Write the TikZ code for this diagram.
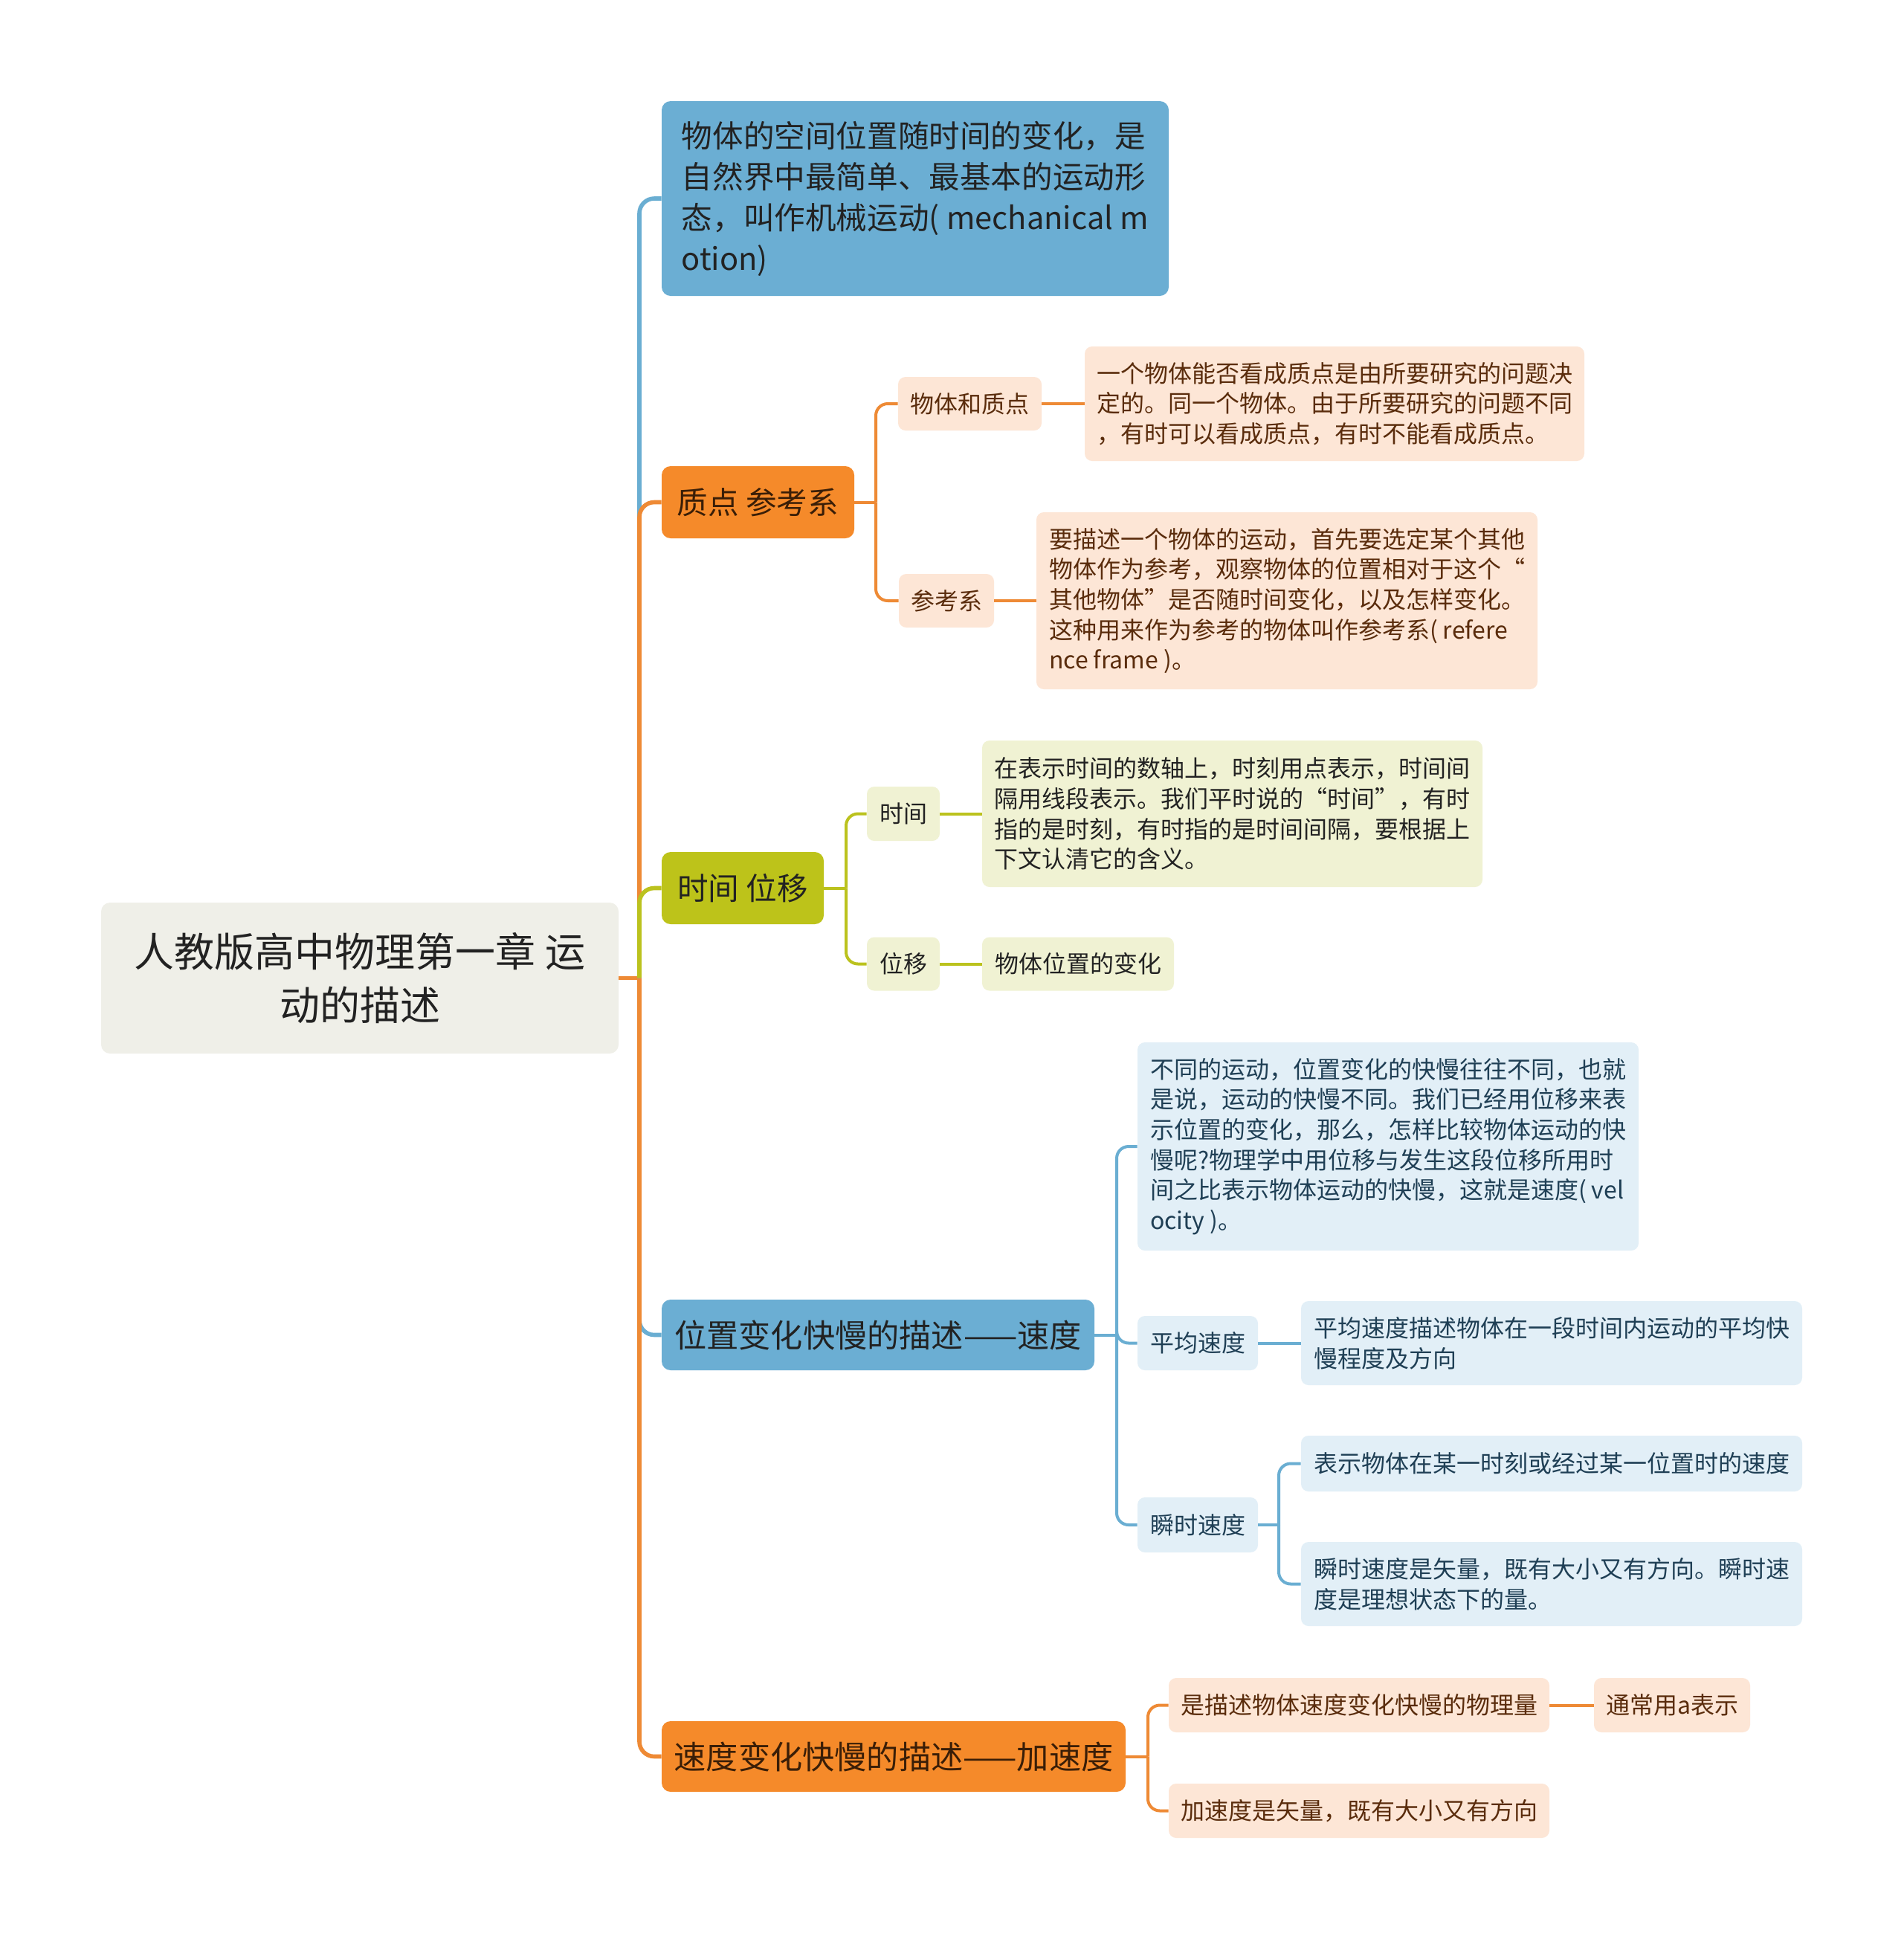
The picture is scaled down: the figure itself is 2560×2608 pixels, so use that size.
\documentclass[tikz,border=0pt]{standalone}
\usepackage{fontspec}
\setmainfont{Noto Sans CJK SC}
\definecolor{blueM}{HTML}{6BAED3}
\definecolor{blueL}{HTML}{E2EFF7}
\definecolor{blueLine}{HTML}{6AAED2}
\definecolor{blueTxt}{HTML}{1F3F55}
\definecolor{orangeM}{HTML}{F58A2A}
\definecolor{orangeLine}{HTML}{EE8A35}
\definecolor{peach}{HTML}{FDE6D6}
\definecolor{brownTxt}{HTML}{5A2C0C}
\definecolor{darkBrown}{HTML}{3A1E07}
\definecolor{oliveM}{HTML}{BDC31A}
\definecolor{oliveL}{HTML}{F0F2D3}
\definecolor{oliveLine}{HTML}{BBC21E}
\definecolor{rootFill}{HTML}{EFEFE8}
\definecolor{txt}{HTML}{222222}
\tikzset{
  box/.style={rounded corners=6pt, inner sep=0pt, align=left},
  rootbox/.style={box, fill=rootFill, text=txt, align=center,
    font=\fontsize{27pt}{36pt}\selectfont},
  mainbox/.style={box, font=\fontsize{20.8pt}{27.5pt}\selectfont},
  widebox/.style={box, font=\fontsize{21.6pt}{27.5pt}\selectfont},
  subbox/.style={box, rounded corners=5pt, font=\fontsize{16pt}{20.35pt}\selectfont},
  conn/.style={line width=2.8pt, rounded corners=10pt},
  subconn/.style={line width=2pt, rounded corners=8pt},
}
\begin{document}
\begin{tikzpicture}[x=0.5pt,y=-0.5pt]
\useasboundingbox[fill=white] (0,0) rectangle (2560,2608);

% root
\node[rootbox, minimum width=348pt, minimum height=101.5pt] (root) at (484,1315.5)
  {人教版高中物理第一章 运\\动的描述};

% branch 1
\node[mainbox, fill=blueM, text=txt, minimum width=341pt, minimum height=131pt] (b1) at (1231,267)
  {物体的空间位置随时间的变化，是\\自然界中最简单、最基本的运动形\\态，叫作机械运动( mechanical m\\otion)};

% branch 2
\node[mainbox, fill=orangeM, text=darkBrown, align=center, minimum width=129.5pt, minimum height=48.5pt] (b2) at (1019.5,675.5) {质点 参考系};
\node[subbox, fill=peach, text=brownTxt, align=center, minimum width=96.5pt, minimum height=36pt] (s21) at (1304.5,543) {物体和质点};
\node[subbox, fill=peach, text=brownTxt, minimum width=336pt, minimum height=77pt] (d21) at (1795,543)
  {一个物体能否看成质点是由所要研究的问题决\\定的。同一个物体。由于所要研究的问题不同\\，有时可以看成质点，有时不能看成质点。};
\node[subbox, fill=peach, text=brownTxt, align=center, minimum width=64pt, minimum height=36pt] (s22) at (1273,808) {参考系};
\node[subbox, fill=peach, text=brownTxt, minimum width=337pt, minimum height=119pt] (d22) at (1731,808)
  {要描述一个物体的运动，首先要选定某个其他\\物体作为参考，观察物体的位置相对于这个“\\其他物体”是否随时间变化，以及怎样变化。\\这种用来作为参考的物体叫作参考系( refere\\nce frame )。};

% branch 3
\node[mainbox, fill=oliveM, text=txt, align=center, minimum width=109pt, minimum height=48.5pt] (b3) at (999,1194.5) {时间 位移};
\node[subbox, fill=oliveL, text=txt, align=center, minimum width=49pt, minimum height=36.5pt] (s31) at (1215,1094.5) {时间};
\node[subbox, fill=oliveL, text=txt, minimum width=336.5pt, minimum height=98.5pt] (d31) at (1657.5,1094.5)
  {在表示时间的数轴上，时刻用点表示，时间间\\隔用线段表示。我们平时说的“时间”，有时\\指的是时刻，有时指的是时间间隔，要根据上\\下文认清它的含义。};
\node[subbox, fill=oliveL, text=txt, align=center, minimum width=49pt, minimum height=36pt] (s32) at (1215,1296.5) {位移};
\node[subbox, fill=oliveL, text=txt, align=center, minimum width=129pt, minimum height=36pt] (d32) at (1450,1296.5) {物体位置的变化};

% branch 4
\node[widebox, fill=blueM, text=txt, align=center, minimum width=291pt, minimum height=47.5pt] (b4) at (1181,1795.5) {位置变化快慢的描述——速度};
\node[subbox, fill=blueL, text=blueTxt, minimum width=337pt, minimum height=140pt] (d41) at (1867,1542)
  {不同的运动，位置变化的快慢往往不同，也就\\是说，运动的快慢不同。我们已经用位移来表\\示位置的变化，那么，怎样比较物体运动的快\\慢呢?物理学中用位移与发生这段位移所用时\\间之比表示物体运动的快慢，这就是速度( vel\\ocity )。};
\node[subbox, fill=blueL, text=blueTxt, align=center, minimum width=81pt, minimum height=36.5pt] (s42) at (1611,1806.5) {平均速度};
\node[subbox, fill=blueL, text=blueTxt, minimum width=337pt, minimum height=56.5pt] (d42) at (2087,1806.5)
  {平均速度描述物体在一段时间内运动的平均快\\慢程度及方向};
\node[subbox, fill=blueL, text=blueTxt, align=center, minimum width=81pt, minimum height=37pt] (s43) at (1611,2051) {瞬时速度};
\node[subbox, fill=blueL, text=blueTxt, align=center, minimum width=337pt, minimum height=37.5pt] (d43a) at (2087,1968.5) {表示物体在某一时刻或经过某一位置时的速度};
\node[subbox, fill=blueL, text=blueTxt, minimum width=337pt, minimum height=56.5pt] (d43b) at (2087,2130.5)
  {瞬时速度是矢量，既有大小又有方向。瞬时速\\度是理想状态下的量。};

% branch 5
\node[widebox, fill=orangeM, text=darkBrown, align=center, minimum width=312pt, minimum height=47.5pt] (b5) at (1202,2362.5) {速度变化快慢的描述——加速度};
\node[subbox, fill=peach, text=brownTxt, align=center, minimum width=256pt, minimum height=36.5pt] (s51) at (1828,2293.5) {是描述物体速度变化快慢的物理量};
\node[subbox, fill=peach, text=brownTxt, align=center, minimum width=105pt, minimum height=36.5pt] (s51a) at (2249,2293.5) {通常用a表示};
\node[subbox, fill=peach, text=brownTxt, align=center, minimum width=256pt, minimum height=36.5pt] (s52) at (1828,2435.5) {加速度是矢量，既有大小又有方向};

% junctions
\coordinate (j0) at (860,1315.5);
\coordinate (j2) at (1178,675.5);
\coordinate (j3) at (1138,1194.5);
\coordinate (j4) at (1502,1795.5);
\coordinate (j43) at (1720,2051);
\coordinate (j5) at (1544,2362.5);

% main connectors
\draw[conn, orangeLine] (root.east) -- (j0);
\draw[conn, blueLine] (j0) |- (b1.west);
\draw[conn, orangeLine] (j0) |- (b2.west);
\draw[conn, oliveLine] (j0) |- (b3.west);
\draw[conn, blueLine] (j0) |- (b4.west);
\draw[conn, orangeLine] (j0) |- (b5.west);

% branch 2 connectors
\draw[subconn, orangeLine] (b2.east) -- (j2);
\draw[subconn, orangeLine] (j2) |- (s21.west);
\draw[subconn, orangeLine] (j2) |- (s22.west);
\draw[subconn, orangeLine] (s21.east) -- (d21.west);
\draw[subconn, orangeLine] (s22.east) -- (d22.west);

% branch 3 connectors
\draw[subconn, oliveLine] (b3.east) -- (j3);
\draw[subconn, oliveLine] (j3) |- (s31.west);
\draw[subconn, oliveLine] (j3) |- (s32.west);
\draw[subconn, oliveLine] (s31.east) -- (d31.west);
\draw[subconn, oliveLine] (s32.east) -- (d32.west);

% branch 4 connectors
\draw[subconn, blueLine] (b4.east) -- (j4);
\draw[subconn, blueLine] (j4) |- (d41.west);
\draw[subconn, blueLine] (j4) |- (s42.west);
\draw[subconn, blueLine] (j4) |- (s43.west);
\draw[subconn, blueLine] (s42.east) -- (d42.west);
\draw[subconn, blueLine] (s43.east) -- (j43);
\draw[subconn, blueLine] (j43) |- (d43a.west);
\draw[subconn, blueLine] (j43) |- (d43b.west);

% branch 5 connectors
\draw[subconn, orangeLine] (b5.east) -- (j5);
\draw[subconn, orangeLine] (j5) |- (s51.west);
\draw[subconn, orangeLine] (j5) |- (s52.west);
\draw[subconn, orangeLine] (s51.east) -- (s51a.west);
\end{tikzpicture}
\end{document}
